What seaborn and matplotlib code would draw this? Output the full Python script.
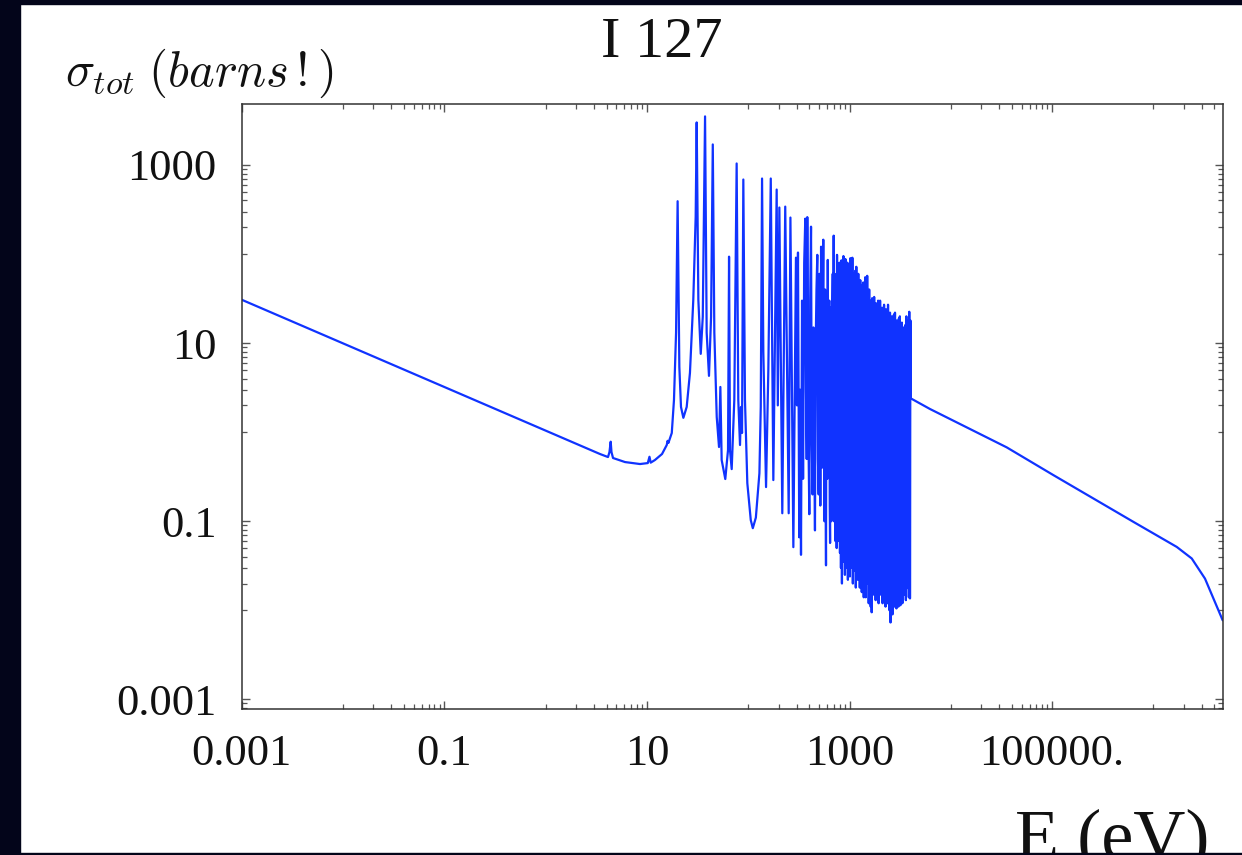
import matplotlib
matplotlib.use("Agg")
import matplotlib.pyplot as plt
import numpy as np
import pandas as pd
import seaborn as sns
from matplotlib.ticker import FixedLocator, FixedFormatter, NullFormatter
from matplotlib.patches import Rectangle

# ---------------- data (E in eV, sigma in barns) ----------------
energy_low = [0.001, 3.44, 4.13, 4.27, 4.39, 4.47, 4.63, 6.08, 8.55, 10.2,
              10.6, 10.9, 12.0, 14.1, 15.7, 16.0, 16.3, 17.6, 18.5, 19.4,
              20.1, 20.9, 21.7, 22.9, 24.7, 26.6, 28.7, 30.3, 31.0, 32.2,
              34.0, 35.6, 37.5, 38.9, 41.0, 43.0, 44.7, 46.3, 48.9, 51.5,
              53.1, 54.7, 59.4, 63.2, 64.7, 66.1, 68.7, 72.9, 76.9, 79.8,
              83.0, 84.9, 86.9, 89.5, 92.9]
sigma_low = [30.7, 0.569, 0.526, 0.598, 0.782, 0.598, 0.513, 0.462, 0.439, 0.45,
             0.53, 0.455, 0.487, 0.569, 0.718, 0.80, 0.757, 0.98, 2.30, 13.1,
             392, 5.41, 1.92, 1.45, 1.92, 4.63, 30.7, 263, 3006, 30.7,
             7.58, 19.8, 3513, 13.1, 4.29, 19.8, 1701, 13.1, 1.48, 0.682,
             3.22, 0.487, 0.298, 0.631, 93.5, 0.631, 0.385, 2.30, 1040, 2.30,
             0.718, 1.92, 0.98, 687, 2.30]

energy_mid = [98, 106, 111, 119, 129, 133, 137, 141, 150, 158,
              167, 177, 191, 196, 203, 217, 232, 251, 261, 279,
              296, 303, 310, 319, 325, 332, 340, 348, 357, 366,
              372, 378, 383, 392, 401, 409, 417, 424, 432, 440,
              448, 456, 464, 472, 481, 488, 496, 505, 510, 515,
              524, 530, 537, 544, 551, 558, 566, 574, 580, 586,
              592, 598, 604, 610, 615, 620, 626, 632, 638, 643,
              649, 655, 661, 668, 675, 683, 690, 698, 703, 708,
              714, 720, 725, 730, 736, 741, 747, 753, 759, 765,
              771, 778, 784, 790, 795, 805]
sigma_mid = [0.268, 0.103, 0.0836, 0.11, 0.347, 1.92, 705, 8.0, 0.242, 5.0,
             705, 0.29, 530, 2.0, 333, 0.123, 341, 0.123, 257, 0.0512,
             91.1, 2.0, 104, 0.066, 3.0, 0.042, 30, 0.3, 80, 250,
             3, 0.5, 260, 1.2, 0.12, 30, 203, 0.8, 0.2, 15,
             1.0, 0.079, 10, 40, 98, 0.5, 0.2, 60, 2, 0.15,
             121, 1, 0.4, 20, 145, 2, 0.1, 40, 0.3, 0.032,
             8, 20, 0.3, 86, 5, 0.5, 15, 30, 0.15, 0.057,
             25, 10, 0.1, 0.3, 20, 60, 0.5, 161, 0.1, 0.2,
             60, 40, 0.06, 0.1, 30, 20, 0.05, 98, 0.2, 0.08,
             40, 50, 0.06, 0.3, 80, 0.044]

energy_dense = [815, 823, 832, 842, 852, 861, 871, 881, 891, 901,
                911, 921, 932, 942, 953, 964, 975, 986, 997, 1008,
                1020, 1031, 1043, 1055, 1067, 1079, 1091, 1103, 1115, 1128,
                1141, 1154, 1167, 1180, 1193, 1207, 1221, 1235, 1249, 1263,
                1277, 1292, 1306, 1321, 1336, 1351, 1366, 1382, 1398, 1413,
                1430, 1446, 1462, 1478, 1495, 1512, 1529, 1547, 1564, 1582,
                1600, 1618, 1636, 1655, 1674, 1693, 1712, 1731, 1751, 1771,
                1791, 1811, 1831, 1852, 1873, 1894, 1915, 1937, 1960, 1982,
                2004, 2027, 2050, 2073, 2096, 2120, 2144, 2168, 2193, 2218,
                2243, 2268, 2294, 2320, 2346, 2373, 2400, 2427, 2455, 2482,
                2510, 2540, 2570, 2597, 2626, 2656, 2686, 2716, 2747, 2778,
                2812, 2841, 2873, 2906, 2940, 2972, 3005, 3040, 3075, 3109,
                3140, 3180, 3215, 3252, 3290, 3326, 3364, 3402, 3440, 3460,
                3475, 3520, 3560, 3600, 3640, 3673, 3720, 3760, 3810, 3850,
                3890, 3930, 3940, 3954, 3990]
sigma_dense = [60, 0.03, 85, 0.02, 75, 0.05, 95, 0.035, 40, 0.025,
               88, 0.06, 50, 0.03, 80, 0.022, 45, 0.04, 70, 0.024,
               90, 0.05, 35, 0.03, 91, 0.02, 60, 0.045, 25, 0.028,
               65, 0.018, 72, 0.035, 40, 0.022, 60, 0.04, 30, 0.018,
               51, 0.03, 45, 0.016, 20, 0.025, 48, 0.014, 30, 0.03,
               55, 0.014, 40, 0.02, 57, 0.025, 18, 0.012, 40, 0.02,
               30, 0.011, 25, 0.0095, 32, 0.02, 15, 0.015, 33, 0.025,
               22, 0.013, 28, 0.02, 12, 0.016, 30, 0.012, 20, 0.025,
               30, 0.015, 18, 0.022, 25, 0.012, 15, 0.02, 27, 0.014,
               20, 0.011, 24, 0.018, 14, 0.012, 27, 0.016, 18, 0.01,
               22, 0.0073, 16, 0.012, 20, 0.009, 12, 0.014, 21, 0.011,
               22, 0.013, 15, 0.0105, 18, 0.014, 12, 0.011, 19, 0.015,
               20, 0.0114, 14, 0.016, 17, 0.012, 11, 0.02, 15, 0.015,
               13.4, 0.016, 16, 0.013, 20, 0.0177, 18, 0.02, 15, 0.014,
               22.5, 0.016, 12, 0.0136, 18]

energy_tail = [4018, 6237, 35600, 102800, 634000, 1.70e6, 2.39e6, 3.23e6, 4.83e6]
sigma_tail = [2.4, 1.82, 0.676, 0.330, 0.0985, 0.0515, 0.0382, 0.0227, 0.00772]

x_major = [1e-3, 1e-1, 1e1, 1e3, 1e5]
x_major_labels = ["0.001", "0.1", "10", "1000", "100000."]
y_major = [1e-3, 1e-1, 1e1, 1e3]
y_major_labels = ["0.001", "0.1", "10", "1000"]
labelled_exponents = [-3, -1, 1, 3, 5, 7]

title_text = "I 127"
ylabel_text = r"$\sigma_{tot}\;(barns\,!)$"
xlabel_text = "E (eV)"

# ---------------- build ----------------
energy = energy_low + energy_mid + energy_dense + energy_tail
sigma = sigma_low + sigma_mid + sigma_dense + sigma_tail
df = pd.DataFrame({"E": energy, "sigma": sigma})

sns.set_theme(style="white")
plt.rcParams["font.family"] = ["Liberation Serif", "DejaVu Serif"]
plt.rcParams["mathtext.fontset"] = "cm"

W, H = 1242, 855
fig = plt.figure(figsize=(W / 100, H / 100), dpi=100)
fig.patch.set_facecolor("white")
ax = fig.add_axes([241.7 / W, 1 - 709 / H, (1222.7 - 241.7) / W, (709 - 104) / H])
ax.set_facecolor("white")

sns.lineplot(data=df, x="E", y="sigma", sort=False, estimator=None,
             color="#1033ff", linewidth=1.6, ax=ax)
ax.set_xscale("log")
ax.set_yscale("log")
ax.set_xlim(1e-3, 4.83e6)
ax.set_ylim(7.8e-4, 4840)
ax.set_xlabel("")
ax.set_ylabel("")

x_minor = [m * 10.0 ** (k - 1) for k in labelled_exponents for m in range(1, 10)]
y_minor = [m * 10.0 ** (k - 1) for k in labelled_exponents for m in range(1, 10)]
ax.xaxis.set_major_locator(FixedLocator(x_major))
ax.xaxis.set_major_formatter(FixedFormatter(x_major_labels))
ax.xaxis.set_minor_locator(FixedLocator(x_minor))
ax.xaxis.set_minor_formatter(NullFormatter())
ax.yaxis.set_major_locator(FixedLocator(y_major))
ax.yaxis.set_major_formatter(FixedFormatter(y_major_labels))
ax.yaxis.set_minor_locator(FixedLocator(y_minor))
ax.yaxis.set_minor_formatter(NullFormatter())

ax.tick_params(which="both", direction="in", top=True, right=True,
               bottom=True, left=True, color="#555555")
ax.tick_params(which="major", length=6, width=1.0, labelsize=32, pad=18,
               labelcolor="#111111")
ax.tick_params(which="minor", length=3.5, width=0.9)
for s in ax.spines.values():
    s.set_color("#333333")
    s.set_linewidth(1.1)
    s.set_visible(True)

fig.text(661.5 / W, 1 - 57 / H, title_text, ha="center", va="baseline",
         fontsize=42, color="#111111")
fig.text(65 / W, 1 - 86 / H, ylabel_text, ha="left", va="baseline",
         fontsize=35, color="#111111")
fig.text(1015 / W, 1 - 859 / H, xlabel_text, ha="left", va="baseline",
         fontsize=52, color="#111111")

dark = "#03051a"
fig.patches.append(Rectangle((0, 0), 20 / W, 1, transform=fig.transFigure,
                             color=dark, zorder=20))
fig.patches.append(Rectangle((0, 1 - 4.5 / H), 1, 4.5 / H, transform=fig.transFigure,
                             color=dark, zorder=20))
fig.patches.append(Rectangle((0, 0), 1, 2.5 / H, transform=fig.transFigure,
                             color=dark, zorder=20))

fig.savefig("out.png", dpi=100, facecolor="white")
